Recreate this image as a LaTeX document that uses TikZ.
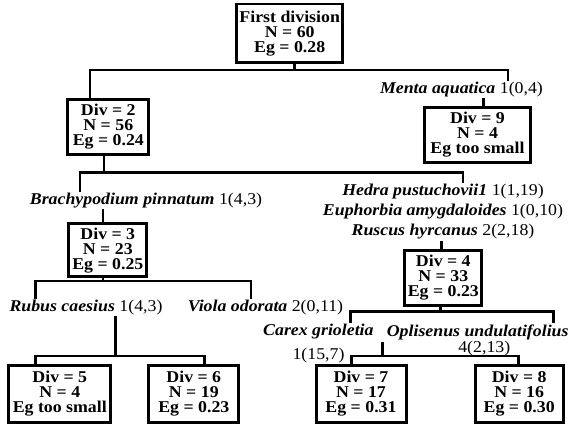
\documentclass[tikz,border=0pt]{standalone}
\usepackage{fontspec}
\setmainfont{Liberation Serif}[FakeStretch=1.08]
\newcommand{\taxon}[1]{\textbf{\textit{#1}}}

\begin{document}
\begin{tikzpicture}[
  x=1pt, y=-1pt,
  box/.style={draw, line width=3pt, align=center, inner sep=0pt, font=\fontsize{16.5}{15}\selectfont\bfseries},
  lbl/.style={inner sep=1pt, font=\fontsize{16.5}{16}\selectfont},
  link/.style={draw, line width=2.5pt}
]
\useasboundingbox (0,0) rectangle (573,424);
\node[box, minimum width=106pt, minimum height=58.7pt, line width=2.5pt] (top) at (289.7,33.3) {First division\\N = 60\\Eg = 0.28};
\node[box, minimum width=81.3pt, minimum height=55pt] (div2) at (108.3,126.5) {Div = 2\\N = 56\\Eg = 0.24};
\node[box, minimum width=105.6pt, minimum height=55pt, line width=2.5pt] (div9) at (477.5,134.8) {Div = 9\\N = 4\\Eg too small};
\node[box, minimum width=77.7pt, minimum height=53.3pt] (div3) at (107.8,250.3) {Div = 3\\N = 23\\Eg = 0.25};
\node[box, minimum width=77.3pt, minimum height=55pt] (div4) at (443.3,277.8) {Div = 4\\N = 33\\Eg = 0.23};
\node[box, minimum width=101.7pt, minimum height=57.4pt] (div5) at (59.8,394) {Div = 5\\N = 4\\Eg too small};
\node[box, minimum width=89.7pt, minimum height=57.4pt] (div6) at (193.8,394) {Div = 6\\N = 19\\Eg = 0.23};
\node[box, minimum width=90pt, minimum height=57.4pt] (div7) at (361,394) {Div = 7\\N = 17\\Eg = 0.31};
\node[box, minimum width=87.7pt, minimum height=57.4pt] (div8) at (519.2,394) {Div = 8\\N = 16\\Eg = 0.30};

\node[lbl] (menta) at (461.5,89.3) {\taxon{Menta aquatica} 1(0,4)};
\node[lbl] (brach) at (146,200.7) {\taxon{Brachypodium pinnatum} 1(4,3)};
\node[lbl] (hedra) at (443,191.7) {\taxon{Hedra pustuchovii1} 1(1,19)};
\node[lbl] (euph) at (443,211.5) {\taxon{Euphorbia amygdaloides} 1(0,10)};
\node[lbl] (rusc) at (443,232) {\taxon{Ruscus hyrcanus} 2(2,18)};
\node[lbl] (rubus) at (86,307.7) {\taxon{Rubus caesius} 1(4,3)};
\node[lbl] (viola) at (265.5,307.7) {\taxon{Viola odorata} 2(0,11)};
\node[lbl] (carex) at (318.4,332) {\taxon{Carex grioletia}};
\node[lbl] (carexn) at (318.5,355.3) {1(15,7)};
\node[lbl] (oplis) at (477.7,332) {\taxon{Oplisenus undulatifolius}};
\node[lbl] (oplisn) at (484.3,348.7) {4(2,13)};

\coordinate (j1) at (294.3,70);
\coordinate (j2) at (104,172.7);
\coordinate (j3) at (103,281);
\coordinate (j4) at (115.7,356);
\coordinate (j5) at (440.3,311.3);
\coordinate (t6) at (382.7,342);
\coordinate (j6) at (382.7,356);

\draw[link] ([xshift=4.6pt]top.south) -- (j1);
\draw[link] (j1) -| ([xshift=-18.3pt]div2.north);
\draw[link] (j1) -| ([xshift=46.5pt]menta.north);
\draw[link] ([xshift=22.2pt]menta.south) -- ([xshift=6.2pt]div9.north);

\draw[link] ([xshift=-4.3pt]div2.south) -- (j2);
\draw[link] (j2) -| ([xshift=-66pt]brach.north);
\draw[link] (j2) -| ([xshift=20pt]hedra.north);
\draw[link] ([xshift=-43pt]brach.south) -- ([xshift=-4.8pt]div3.north);
\draw[link] ([xshift=-1.7pt]rusc.south) -- ([xshift=-2pt]div4.north);

\draw[link] ([xshift=-4.8pt]div3.south) -- (j3);
\draw[link] (j3) -| ([xshift=-50.3pt]rubus.north);
\draw[link] (j3) -| ([xshift=-14.5pt]viola.north);
\draw[link] ([xshift=29.7pt]rubus.south) -- (j4);
\draw[link] (j4) -| ([xshift=-24.1pt]div5.north);
\draw[link] (j4) -| ([xshift=10.5pt]div6.north);

\draw[link] ([xshift=-3pt]div4.south) -- (j5);
\draw[link] (j5) -| ([xshift=32pt]carex.north);
\draw[link] (j5) -| ([xshift=76pt]oplis.north);
\draw[link] (t6) -- (j6);
\draw[link] (j6) -| ([xshift=-9.3pt]div7.north);
\draw[link] (j6) -| ([xshift=-0.5pt]div8.north);
\end{tikzpicture}
\end{document}
